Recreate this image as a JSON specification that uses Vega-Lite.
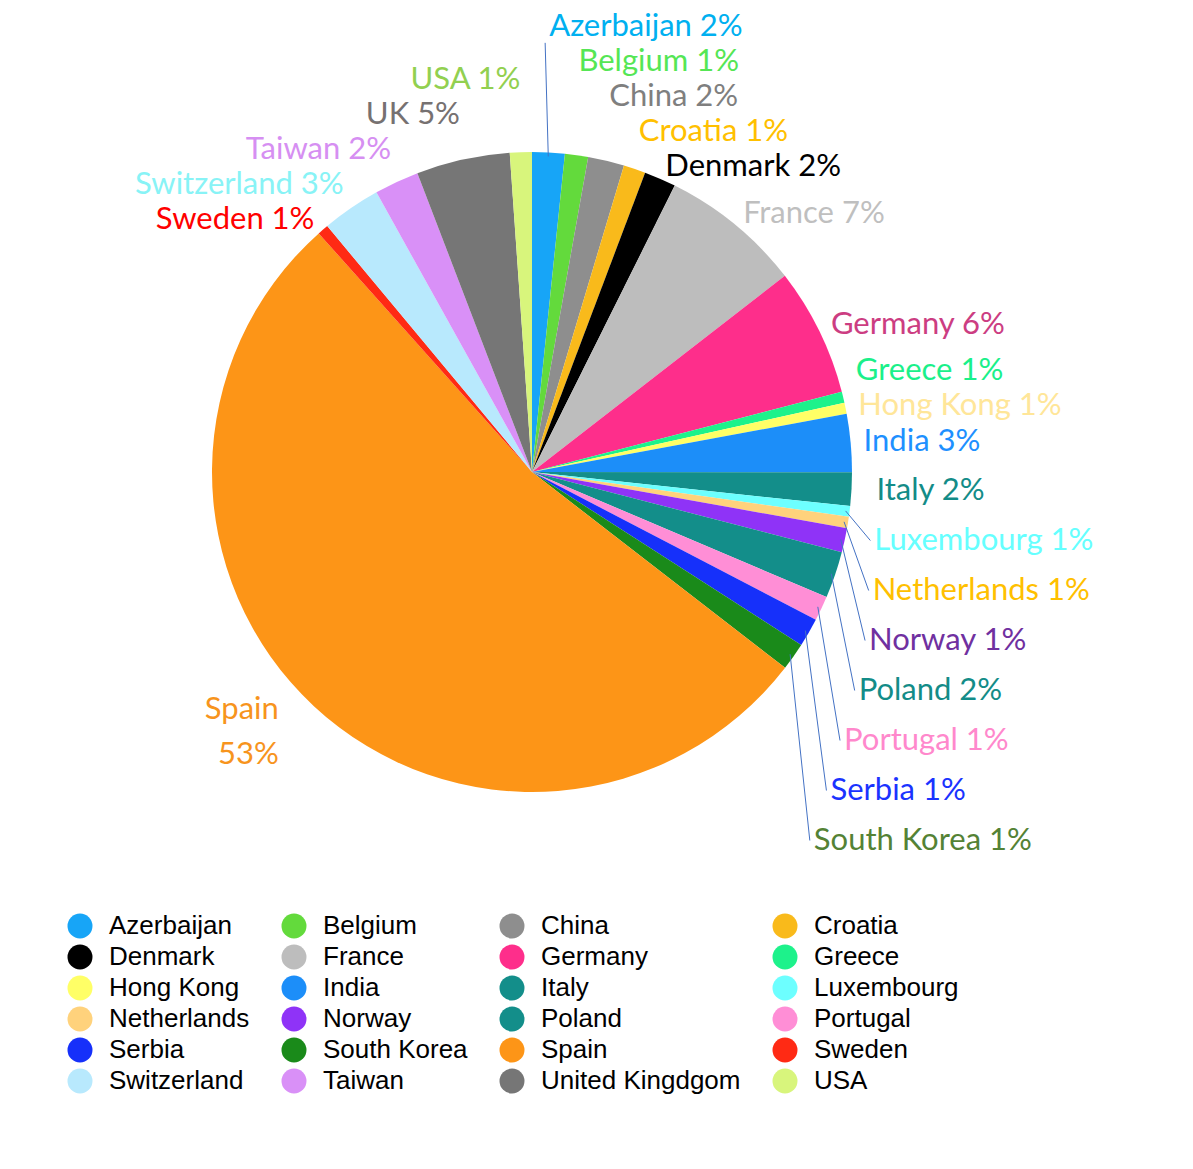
{
  "$schema": "https://vega.github.io/schema/vega-lite/v6.json",
  "width": 1064,
  "height": 944,
  "autosize": {"type": "none"},
  "padding": {"left": 0, "top": 0, "right": 129, "bottom": 225},
  "background": "white",
  "data": {
    "values": [
      {"country": "Azerbaijan", "label": "Azerbaijan", "share": 1.64},
      {"country": "Belgium", "label": "Belgium", "share": 1.17},
      {"country": "China", "label": "China", "share": 1.83},
      {"country": "Croatia", "label": "Croatia", "share": 1.11},
      {"country": "Denmark", "label": "Denmark", "share": 1.61},
      {"country": "France", "label": "France", "share": 7.14},
      {"country": "Germany", "label": "Germany", "share": 6.47},
      {"country": "Greece", "label": "Greece", "share": 0.56},
      {"country": "Hong Kong", "label": "Hong Kong", "share": 0.56},
      {"country": "India", "label": "India", "share": 2.92},
      {"country": "Italy", "label": "Italy", "share": 1.69},
      {"country": "Luxembourg", "label": "Luxembourg", "share": 0.53},
      {"country": "Netherlands", "label": "Netherlands", "share": 0.58},
      {"country": "Norway", "label": "Norway", "share": 1.22},
      {"country": "Poland", "label": "Poland", "share": 2.36},
      {"country": "Portugal", "label": "Portugal", "share": 1.25},
      {"country": "Serbia", "label": "Serbia", "share": 1.45},
      {"country": "South Korea", "label": "South Korea", "share": 1.39},
      {"country": "Spain", "label": "Spain", "share": 52.91},
      {"country": "Sweden", "label": "Sweden", "share": 0.56},
      {"country": "Switzerland", "label": "Switzerland", "share": 2.97},
      {"country": "Taiwan", "label": "Taiwan", "share": 2.25},
      {"country": "United Kingdgom", "label": "UK", "share": 4.72},
      {"country": "USA", "label": "USA", "share": 1.11}
    ]
  },
  "transform": [
    {"window": [{"op": "row_number", "as": "rank"}]},
    {"joinaggregate": [{"op": "sum", "field": "share", "as": "total"}]},
    {
      "window": [{"op": "sum", "field": "share", "as": "cum"}],
      "sort": [{"field": "rank", "order": "ascending"}],
      "frame": [null, 0]
    },
    {"calculate": "2 * PI * (datum.cum - datum.share / 2) / datum.total", "as": "mid"},
    {"calculate": "datum.share / datum.total > 0.2", "as": "big"},
    {"calculate": "datum.label + (datum.big ? '|' : ' ') + round(100 * datum.share / datum.total) + '%'", "as": "text"},
    {"calculate": "cos(datum.mid) > 0 ? 333 : 345", "as": "lr"},
    {"calculate": "datum.lr * sin(datum.mid)", "as": "nx"},
    {"calculate": "-datum.lr * cos(datum.mid)", "as": "ny"},
    {"calculate": "datum.ny < 0", "as": "top"},
    {"calculate": "(datum.nx >= 0 ? 'R' : 'L') + (datum.top ? 'T' : 'B')", "as": "grp"},
    {"calculate": "datum.top ? -datum.ny : datum.ny", "as": "sk"},
    {"calculate": "datum.top ? 35 : 50", "as": "gap"},
    {
      "window": [{"op": "row_number", "as": "k"}],
      "groupby": ["grp"],
      "sort": [{"field": "sk", "order": "ascending"}]
    },
    {"calculate": "datum.top ? datum.ny + datum.gap * datum.k : datum.ny - datum.gap * datum.k", "as": "u"},
    {
      "window": [
        {"op": "min", "field": "u", "as": "umin"},
        {"op": "max", "field": "u", "as": "umax"}
      ],
      "groupby": ["grp"],
      "sort": [{"field": "sk", "order": "ascending"}],
      "frame": [null, 0]
    },
    {"calculate": "datum.top ? datum.umin - datum.gap * datum.k : datum.umax + datum.gap * datum.k", "as": "ly"},
    {"calculate": "abs(datum.ly - datum.ny) > (datum.top ? 90 : 20)", "as": "lead"},
    {"calculate": "316 * sin(datum.mid)", "as": "sx"},
    {"calculate": "-316 * cos(datum.mid)", "as": "sy"},
    {"calculate": "datum.nx - 4", "as": "tx"},
    {"calculate": "datum.top ? datum.ly + 16 : datum.ly", "as": "ty"}
  ],
  "layer": [
    {
      "mark": {"type": "arc", "radius": 320},
      "encoding": {
        "theta": {"field": "share", "type": "quantitative", "stack": true},
        "order": {"field": "rank", "type": "quantitative"},
        "color": {
          "field": "country",
          "type": "nominal",
          "scale": {
            "domain": ["Azerbaijan", "Belgium", "China", "Croatia", "Denmark", "France", "Germany", "Greece", "Hong Kong", "India", "Italy", "Luxembourg", "Netherlands", "Norway", "Poland", "Portugal", "Serbia", "South Korea", "Spain", "Sweden", "Switzerland", "Taiwan", "United Kingdgom", "USA"],
            "range": ["#17A5F7", "#63DA3C", "#8E8E8E", "#F9BA1B", "#000000", "#BDBDBD", "#FE2E8B", "#1DF28B", "#FFFF66", "#1C8EF9", "#138E8A", "#6DFFFF", "#FFD27C", "#8F33F7", "#138E8A", "#FF8ED6", "#1630FA", "#1A8A1A", "#FD9517", "#FF2A14", "#B8E9FD", "#D990F7", "#767676", "#D8F57C"]
          },
          "legend": {
            "title": null,
            "orient": "none",
            "direction": "horizontal",
            "legendX": 67,
            "legendY": 913,
            "columns": 4,
            "padding": 0,
            "symbolType": "circle",
            "symbolSize": 625,
            "symbolStrokeWidth": 0,
            "labelFont": "Liberation Sans",
            "labelFontSize": 26,
            "labelColor": "#000000",
            "labelOffset": 16,
            "labelLimit": 0,
            "rowPadding": 5,
            "columnPadding": 31
          }
        }
      }
    },
    {
      "transform": [{"filter": "datum.lead"}],
      "mark": {"type": "rule", "color": "#4472C4", "strokeWidth": 1},
      "encoding": {
        "x": {"field": "sx", "type": "quantitative", "scale": {"domain": [-532, 532], "nice": false}, "axis": null},
        "y": {"field": "sy", "type": "quantitative", "scale": {"domain": [-472, 472], "nice": false, "reverse": true}, "axis": null},
        "x2": {"field": "tx"},
        "y2": {"field": "ty"}
      }
    },
    {
      "transform": [{"filter": "datum.nx >= 0"}],
      "mark": {"type": "text", "align": "left", "baseline": "middle", "font": "Lato", "fontSize": 31},
      "encoding": {
        "x": {"field": "nx", "type": "quantitative", "scale": {"domain": [-532, 532], "nice": false}, "axis": null},
        "y": {"field": "ly", "type": "quantitative", "scale": {"domain": [-472, 472], "nice": false, "reverse": true}, "axis": null},
        "text": {"field": "text", "type": "nominal"},
        "color": {
          "field": "country",
          "type": "nominal",
          "legend": null,
          "scale": {
            "domain": ["Azerbaijan", "Belgium", "China", "Croatia", "Denmark", "France", "Germany", "Greece", "Hong Kong", "India", "Italy", "Luxembourg", "Netherlands", "Norway", "Poland", "Portugal", "Serbia", "South Korea", "Spain", "Sweden", "Switzerland", "Taiwan", "United Kingdgom", "USA"],
            "range": ["#00B0F0", "#55E655", "#7F7F7F", "#FFC000", "#000000", "#BFBFBF", "#CC3D82", "#1AF08A", "#FFE699", "#1E90FF", "#138C88", "#66FFFF", "#FFC000", "#7030A0", "#138C88", "#FF88CC", "#1A33FF", "#548235", "#F7941D", "#FF0000", "#88F3F6", "#D68FF2", "#767171", "#92D050"]
          }
        }
      }
    },
    {
      "transform": [{"filter": "datum.nx < 0 && !datum.big"}],
      "mark": {"type": "text", "align": "right", "baseline": "middle", "font": "Lato", "fontSize": 31},
      "encoding": {
        "x": {"field": "nx", "type": "quantitative", "scale": {"domain": [-532, 532], "nice": false}, "axis": null},
        "y": {"field": "ly", "type": "quantitative", "scale": {"domain": [-472, 472], "nice": false, "reverse": true}, "axis": null},
        "text": {"field": "text", "type": "nominal"},
        "color": {
          "field": "country",
          "type": "nominal",
          "legend": null,
          "scale": {
            "domain": ["Azerbaijan", "Belgium", "China", "Croatia", "Denmark", "France", "Germany", "Greece", "Hong Kong", "India", "Italy", "Luxembourg", "Netherlands", "Norway", "Poland", "Portugal", "Serbia", "South Korea", "Spain", "Sweden", "Switzerland", "Taiwan", "United Kingdgom", "USA"],
            "range": ["#00B0F0", "#55E655", "#7F7F7F", "#FFC000", "#000000", "#BFBFBF", "#CC3D82", "#1AF08A", "#FFE699", "#1E90FF", "#138C88", "#66FFFF", "#FFC000", "#7030A0", "#138C88", "#FF88CC", "#1A33FF", "#548235", "#F7941D", "#FF0000", "#88F3F6", "#D68FF2", "#767171", "#92D050"]
          }
        }
      }
    },
    {
      "transform": [{"filter": "datum.big"}],
      "mark": {"type": "text", "align": "right", "baseline": "middle", "font": "Lato", "fontSize": 31, "lineBreak": "|", "lineHeight": 45, "dx": -18, "dy": -14, "color": "#F7941D"},
      "encoding": {
        "x": {"field": "nx", "type": "quantitative", "scale": {"domain": [-532, 532], "nice": false}, "axis": null},
        "y": {"field": "ly", "type": "quantitative", "scale": {"domain": [-472, 472], "nice": false, "reverse": true}, "axis": null},
        "text": {"field": "text", "type": "nominal"}
      }
    }
  ],
  "resolve": {"scale": {"color": "independent"}},
  "config": {"view": {"stroke": null}}
}
